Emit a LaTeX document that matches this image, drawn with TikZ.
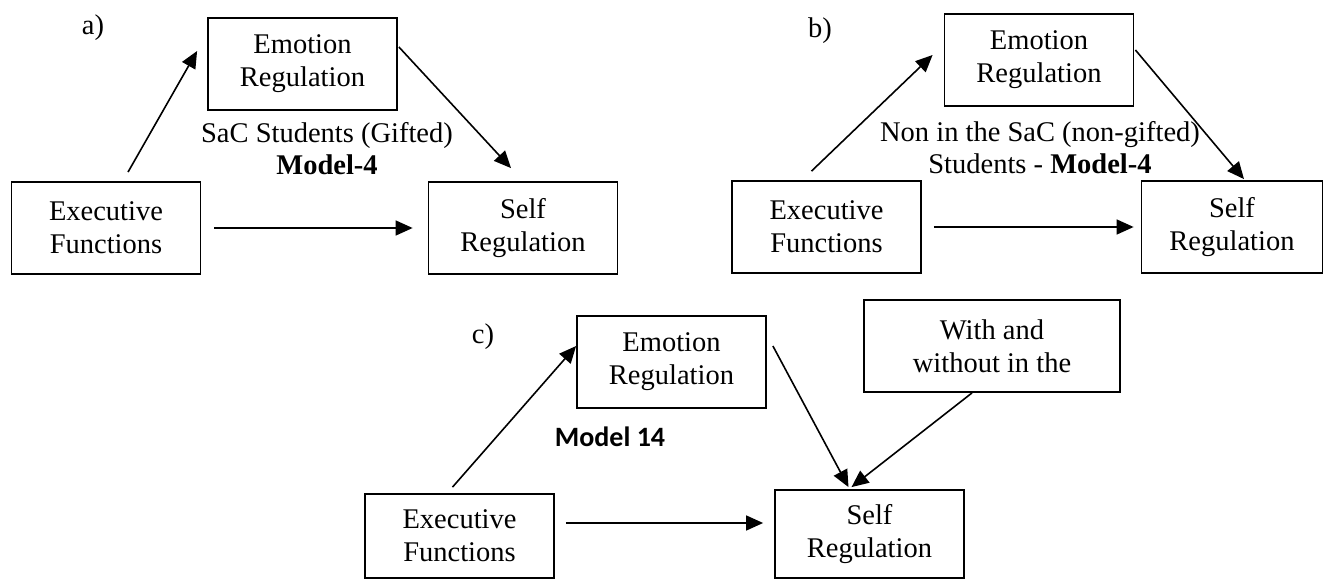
\documentclass[tikz,border=0pt]{standalone}
\usepackage{fontspec}
\setmainfont{Liberation Serif}
\newfontfamily\calibri{Carlito}
\usepackage{tikz}
\usetikzlibrary{arrows.meta}
\usetikzlibrary{calc}

\tikzset{
    boite/.style={draw, line width=1.8pt, minimum width=189pt, minimum height=92pt,
        align=center, inner sep=0pt, font=\fontsize{28.5}{33}\selectfont},
    legende/.style={align=center, inner sep=0pt, font=\fontsize{28.5}{32}\selectfont},
    fleche/.style={line width=1.6pt, -{Triangle[length=17pt,width=15pt]}}
}

\begin{document}
\begin{tikzpicture}[x=1pt,y=-1pt]
            \useasboundingbox (0,0) rectangle (1324,580);
            % a)
            \node[legende] (laba) at (93,28) {a)};
            \node[boite] (era) at (302.5,64) {Emotion\\Regulation};
            \node[boite] (efa) at (106,228) {Executive\\Functions};
            \node[boite] (sra) at (523,228) {Self\\Regulation};
            \node[legende] (capa) at (327,149) {SaC Students (Gifted)\\\textbf{Model-4}};
            \draw[fleche] ([xshift=22pt,yshift=9pt]efa.north) -- ([xshift=-10pt,yshift=13pt]era.west);
            \draw[fleche] ([xshift=1pt,yshift=17pt]era.east) -- ([xshift=-12pt,yshift=13pt]sra.north);
            \draw[fleche, shorten <=13pt, shorten >=15pt] (efa.east) -- (sra.west);
            % b)
            \node[legende] (labb) at (820,31) {b)};
            \node[boite] (erb) at (1039,60) {Emotion\\Regulation};
            \node[boite] (efb) at (826.5,227) {Executive\\Functions};
            \node[boite, minimum width=181pt] (srb) at (1232,227) {Self\\Regulation};
            \node[legende] (capb) at (1040,148) {Non in the SaC (non-gifted)\\Students - \textbf{Model-4}};
            \draw[fleche] ([xshift=-15pt,yshift=9pt]efb.north) -- ([xshift=-11pt,yshift=5pt]erb.west);
            \draw[fleche] ([xshift=1pt,yshift=10pt]erb.east) -- ([xshift=12pt,yshift=1pt]srb.north);
            \draw[fleche, shorten <=12pt, shorten >=7pt] (efb.east) -- (srb.west);
            % c)
            \node[legende] (labc) at (483,337) {c)};
            \node[boite] (erc) at (671.5,362) {Emotion\\Regulation};
            \node[boite, minimum width=256pt] (avec) at (992,346) {With and\\without in the};
            \node[boite, minimum height=84pt] (efc) at (459.5,536) {Executive\\Functions};
            \node[boite, minimum height=88pt] (src) at (869.5,534) {Self\\Regulation};
            \node[font=\calibri\bfseries\fontsize{28}{32}\selectfont] (modc) at (610,437) {Model 14};
            \draw[fleche] ([xshift=-7pt,yshift=6pt]efc.north) -- ([yshift=16pt]erc.west);
            \draw[fleche] ([xshift=6pt,yshift=16pt]erc.east) -- ([xshift=-21pt,yshift=2pt]src.north);
            \draw[fleche] ([xshift=-20pt]avec.south) -- ([xshift=-18pt,yshift=2pt]src.north);
            \draw[fleche] ([xshift=11pt,yshift=13pt]efc.east) -- ([xshift=-11pt,yshift=11pt]src.west);
\end{tikzpicture}
\end{document}
